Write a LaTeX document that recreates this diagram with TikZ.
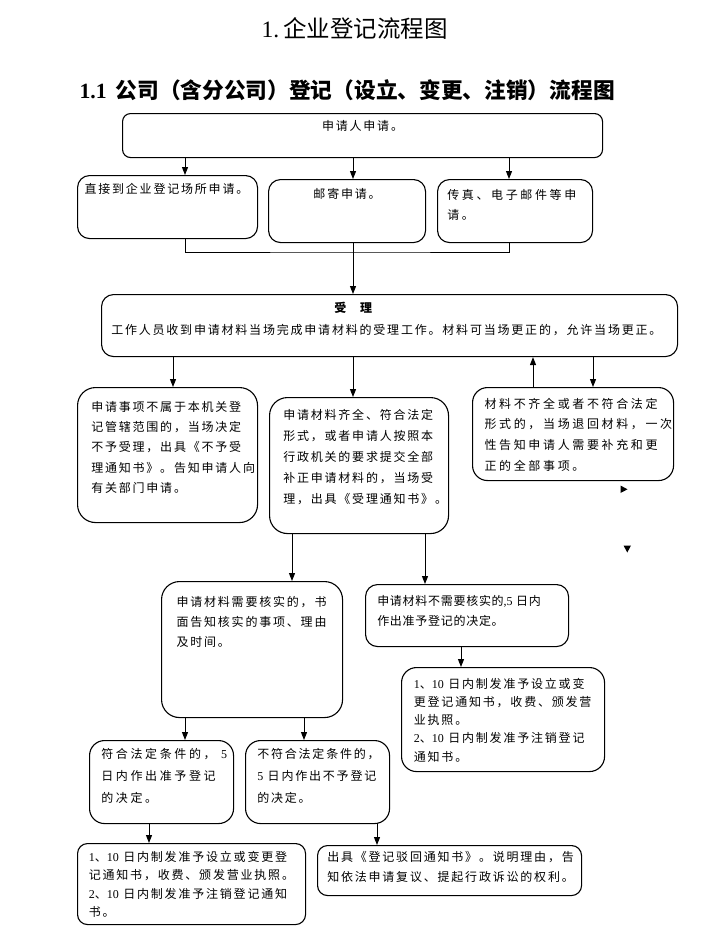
\documentclass[tikz,border=0pt]{standalone}
\usepackage{fontspec}
\setmainfont{Liberation Serif}
\newfontfamily\cjk{Noto Sans CJK SC}[LetterSpace=15]
\newfontfamily\cjktight{Noto Sans CJK SC}[LetterSpace=6]
\newfontfamily\cjkwide{Noto Sans CJK SC}[LetterSpace=22]
\newfontfamily\cjkhead{Noto Sans CJK SC}
\usetikzlibrary{arrows.meta}

\newcommand{\panel}[5]{\parbox[c][#2pt][t]{#1pt}{\raggedright\leftskip=#4pt\relax\vspace*{#3pt}#5}}
\newcommand{\lat}[1]{{\rmfamily #1}}

\begin{document}
\begin{tikzpicture}[x=1pt, y=-1pt,
    stage/.style={draw=black, line width=1.1pt, rounded corners=#1, anchor=north west, inner sep=0pt, text=black, font=\cjk\fontsize{12}{20}\selectfont},
    stage/.default=12pt,
    wire/.style={draw, line width=1pt},
    link/.style={draw, line width=1pt, -{Triangle[length=8pt,width=6pt]}}]

    \useasboundingbox (0,0) rectangle (721,938);

    \node [anchor=west] (title) at (258,28) {\fontsize{23.5}{26}\selectfont 1.\,\cjkhead 企业登记流程图};
    \node [anchor=west] (subtitle) at (76,90) {\fontsize{21.7}{24}\selectfont\bfseries 1.1\hspace{9pt}\cjkhead 公司（含分公司）登记（设立、变更、注销）流程图};

    \node [stage=8pt] (apply) at (122,113) {\panel{480}{44}{7}{0}{\centering 申请人申请。}};
    \node [stage] (direct) at (77,175) {\panel{180}{63}{7.3}{7}{直接到企业登记场所申请。}};
    \node [stage] (mail) at (268,179) {\panel{157}{63}{9}{0}{\centering 邮寄申请。}};
    \node [stage, font=\cjkwide\fontsize{12}{20}\selectfont] (fax) at (437,179) {\panel{155}{63}{10}{9.7}{传真、电子邮件等申\\请。}};

    \node [stage, font=\cjk\fontsize{12}{22}\selectfont] (accept) at (101,294) {\panel{576}{62}{7.3}{9.7}{\hspace*{223pt}{\bfseries 受\hspace{14pt}理}\\工作人员收到申请材料当场完成申请材料的受理工作。材料可当场更正的，允许当场更正。}};

    \node [stage=18pt, font=\cjk\fontsize{12}{20.3}\selectfont] (reject) at (77,387) {\panel{180}{135}{13.7}{13.7}{申请事项不属于本机关登\\记管辖范围的，当场决定\\不予受理，出具《不予受\\理通知书》。告知申请人向\\有关部门申请。}};
    \node [stage=18pt, font=\cjk\fontsize{12}{21}\selectfont] (admit) at (269,397) {\panel{179}{136}{12}{13.7}{申请材料齐全、符合法定\\形式，或者申请人按照本\\行政机关的要求提交全部\\补正申请材料的，当场受\\理，出具《受理通知书》。}};
    \node [stage=15pt, font=\cjkwide\fontsize{12}{20.7}\selectfont] (amend) at (472,387) {\panel{201}{93}{10.3}{12}{材料不齐全或者不符合法定\\形式的，当场退回材料，一次\\性告知申请人需要补充和更\\正的全部事项。}};

    \node [stage=18pt] (verify) at (161,581) {\panel{181}{136}{14.7}{15}{申请材料需要核实的，书\\面告知核实的事项、理由\\及时间。}};
    \node [stage=12pt, font=\cjktight\fontsize{12}{20}\selectfont] (noverify) at (365,584) {\panel{203}{62}{11}{11.7}{申请材料不需要核实的\lat{,5} 日内\\作出准予登记的决定。}};
    \node [stage=15pt, font=\cjk\fontsize{12}{18.3}\selectfont] (issue) at (401,667) {\panel{203}{104}{10.3}{12.3}{\lat{1}、\lat{10} 日内制发准予设立或变\\更登记通知书，收费、颁发营\\业执照。\\\lat{2}、\lat{10} 日内制发准予注销登记\\通知书。}};

    \node [stage=15pt, font=\cjkwide\fontsize{12}{22.3}\selectfont] (grant) at (89,740) {\panel{144}{83}{7.3}{11.7}{符合法定条件的， \lat{5}\\日内作出准予登记\\的决定。}};
    \node [stage=15pt, font=\cjk\fontsize{12}{22.3}\selectfont] (deny) at (245,740) {\panel{144}{83}{7.3}{11.7}{不符合法定条件的，\\\lat{5} 日内作出不予登记\\的决定。}};

    \node [stage=10pt, font=\cjk\fontsize{12}{18.3}\selectfont] (license) at (77,843) {\panel{228}{81}{7.7}{11.3}{\lat{1}、\lat{10} 日内制发准予设立或变更登\\记通知书，收费、颁发营业执照。\\\lat{2}、\lat{10} 日内制发准予注销登记通知\\书。}};
    \node [stage=10pt] (dismiss) at (317,845) {\panel{264}{50}{5.7}{9.7}{出具《登记驳回通知书》。说明理由，告\\知依法申请复议、提起行政诉讼的权利。}};

    \coordinate (xdirect) at (185,0);
    \coordinate (xmail) at (353,0);
    \coordinate (xfax) at (509,0);
    \coordinate (xreject) at (173,0);
    \coordinate (xback) at (533,0);
    \coordinate (xamend) at (593,0);
    \coordinate (xverify) at (292,0);
    \coordinate (xnoverify) at (425,0);
    \coordinate (xissue) at (461,0);
    \coordinate (xgrant) at (185,0);
    \coordinate (xdeny) at (304,0);
    \coordinate (xlicense) at (149,0);
    \coordinate (xdismiss) at (377,0);
    \coordinate (merge) at (353,252);

    \path [link] (apply.south -| xdirect) -- (direct.north -| xdirect);
    \path [link] (apply.south -| xmail) -- (mail.north -| xmail);
    \path [link] (apply.south -| xfax) -- (fax.north -| xfax);
    \path [wire] (direct.south -| xdirect) |- (merge) -| (fax.south -| xfax);
    \path [wire] (mail.south -| xmail) -- (merge);
    \path [link] (merge) -- (accept.north -| merge);

    \path [link] (accept.south -| xreject) -- (reject.north -| xreject);
    \path [link] (accept.south -| xmail) -- (admit.north -| xmail);
    \path [link] (amend.north -| xback) -- (accept.south -| xback);
    \path [link] (accept.south -| xamend) -- (amend.north -| xamend);

    \path [link] (admit.south -| xverify) -- (verify.north -| xverify);
    \path [link] (admit.south -| xnoverify) -- (noverify.north -| xnoverify);
    \path [link] (noverify.south -| xissue) -- (issue.north -| xissue);
    \path [link] (verify.south -| xgrant) -- (grant.north -| xgrant);
    \path [link] (verify.south -| xdeny) -- (deny.north -| xdeny);
    \path [link] (grant.south -| xlicense) -- (license.north -| xlicense);
    \path [link] (deny.south -| xdismiss) -- (dismiss.north -| xdismiss);

    \fill (620.5,485.5) -- (627.5,489.3) -- (620.5,493) -- cycle;
    \fill (623.5,545.5) -- (631,545.5) -- (627.3,552.5) -- cycle;
\end{tikzpicture}
\end{document}
